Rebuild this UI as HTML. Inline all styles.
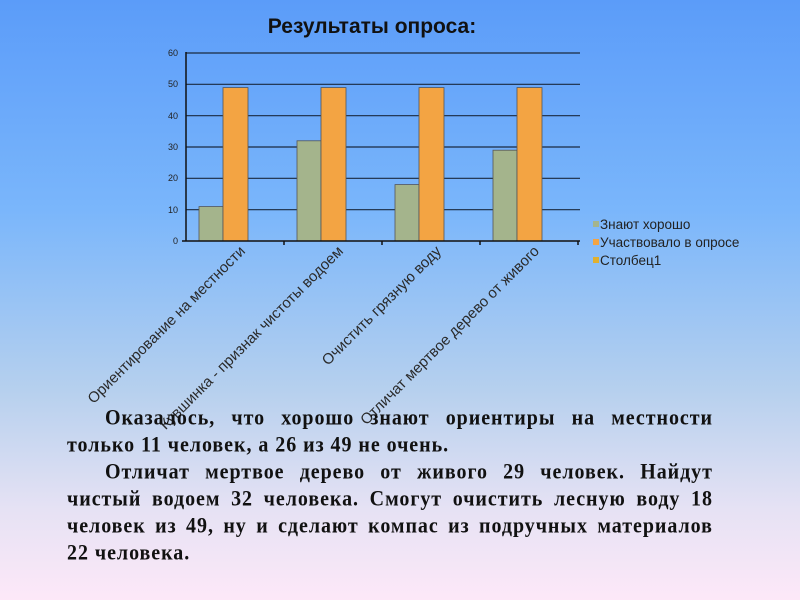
<!DOCTYPE html>
<html><head><meta charset="utf-8"><style>
body{margin:0;width:800px;height:600px;overflow:hidden;background:linear-gradient(to bottom,#5b9cf9 0%,#7ab6fb 35%,#b6d0ee 65%,#e6e2f4 85%,#fde8f8 100%);position:relative;font-family:"Liberation Sans",sans-serif}
.t{position:absolute;left:67px;top:405px;font-family:"Liberation Serif",serif;font-weight:bold;font-size:20px;line-height:27px;color:#111;letter-spacing:0.95px}
.t div{width:646px;height:27px;transform:scale(1,1.1);transform-origin:left center;white-space:nowrap;box-sizing:border-box}
.j{display:flex;justify-content:space-between}
</style></head><body>
<svg width="800" height="600" style="position:absolute;left:0;top:0">
<text x="372" y="33" font-size="21" font-weight="bold" text-anchor="middle" fill="#111" font-family="Liberation Sans">Результаты опроса:</text>
<g stroke="#1a2a40" stroke-width="1.2">
<line x1="186" y1="53" x2="580" y2="53"/><line x1="186" y1="84.3" x2="580" y2="84.3"/><line x1="186" y1="115.7" x2="580" y2="115.7"/><line x1="186" y1="147" x2="580" y2="147"/><line x1="186" y1="178.3" x2="580" y2="178.3"/><line x1="186" y1="209.7" x2="580" y2="209.7"/>
</g>
<g stroke="#555" stroke-width="0.8">
<rect x="199" y="206.6" width="24" height="34.4" fill="#a4b48c"/><rect x="223" y="87.6" width="25" height="153.4" fill="#f3a443"/>
<rect x="297" y="140.8" width="24" height="100.2" fill="#a4b48c"/><rect x="321" y="87.6" width="25" height="153.4" fill="#f3a443"/>
<rect x="395" y="184.6" width="24" height="56.4" fill="#a4b48c"/><rect x="419" y="87.6" width="25" height="153.4" fill="#f3a443"/>
<rect x="493" y="150.2" width="24" height="90.8" fill="#a4b48c"/><rect x="517" y="87.6" width="25" height="153.4" fill="#f3a443"/>
</g>
<g stroke="#111" stroke-width="1.5"><line x1="186" y1="52" x2="186" y2="241"/><line x1="182" y1="241" x2="580" y2="241"/>
<line x1="284" y1="241" x2="284" y2="245"/><line x1="382" y1="241" x2="382" y2="245"/><line x1="480" y1="241" x2="480" y2="245"/><line x1="578" y1="241" x2="578" y2="245"/></g>
<g font-size="9" fill="#222" text-anchor="end">
<text x="178" y="56">60</text><text x="178" y="87">50</text><text x="178" y="119">40</text><text x="178" y="150">30</text><text x="178" y="181">20</text><text x="178" y="213">10</text><text x="178" y="244">0</text>
</g>
<g font-size="15" fill="#2a2a2a" text-anchor="end">
<text transform="translate(246,252) rotate(-45)">Ориентирование на местности</text>
<text transform="translate(344,252) rotate(-45)">Кувшинка - признак чистоты водоем</text>
<text transform="translate(442,252) rotate(-45)">Очистить грязную воду</text>
<text transform="translate(540,252) rotate(-45)">Отличат мертвое дерево от живого</text>
</g>
<rect x="593" y="221" width="6" height="6" fill="#a4b48c"/><rect x="593" y="239" width="6" height="6" fill="#f3a443"/><rect x="593" y="257" width="6" height="6" fill="#e0b030"/>
<g font-size="13.5" fill="#222"><text x="600" y="229">Знают хорошо</text><text x="600" y="247">Участвовало в опросе</text><text x="600" y="265">Столбец1</text></g>
</svg>
<div class="t">
<div class="j" style="padding-left:38px"><span>Оказалось,</span><span>что</span><span>хорошо</span><span>знают</span><span>ориентиры</span><span>на</span><span>местности</span></div>
<div>только 11 человек, а 26 из 49 не очень.</div>
<div class="j" style="padding-left:38px"><span>Отличат</span><span>мертвое</span><span>дерево</span><span>от</span><span>живого</span><span>29</span><span>человек.</span><span>Найдут</span></div>
<div class="j"><span>чистый</span><span>водоем</span><span>32</span><span>человека.</span><span>Смогут</span><span>очистить</span><span>лесную</span><span>воду</span><span>18</span></div>
<div class="j"><span>человек</span><span>из</span><span>49,</span><span>ну</span><span>и</span><span>сделают</span><span>компас</span><span>из</span><span>подручных</span><span>материалов</span></div>
<div>22 человека.</div>
</div>
</body></html>
